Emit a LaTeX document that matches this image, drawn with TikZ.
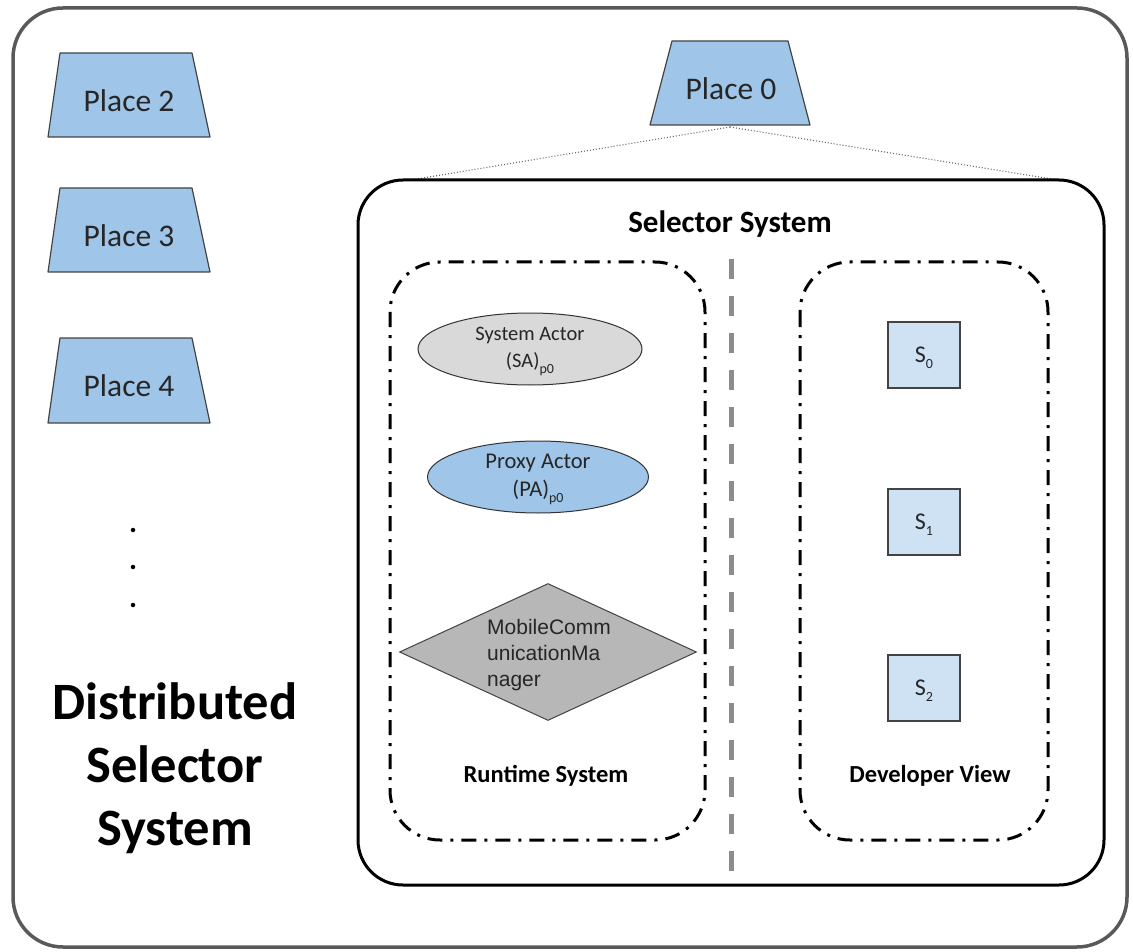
\documentclass[tikz,border=0pt]{standalone}
\usepackage{fontspec}
\setmainfont{Carlito}
\newfontfamily\arialfont{Liberation Sans}
\usetikzlibrary{shapes.geometric}
\definecolor{placeblue}{HTML}{9FC5E8}
\definecolor{paleblue}{HTML}{CFE2F3}
\definecolor{actorgray}{HTML}{D9D9D9}
\definecolor{diamondgray}{HTML}{B7B7B7}
\definecolor{framegray}{HTML}{595959}
\definecolor{edgegray}{HTML}{434343}
\definecolor{dividergray}{HTML}{8C8C8C}
\newcommand{\lowsub}[1]{\smash{\raisebox{-6pt}{\fontsize{14}{14}\selectfont #1}}}

\begin{document}
\begin{tikzpicture}[x=1pt,y=-1pt,
  placeshape/.style={fill=placeblue,draw=edgegray,line width=1.2pt,line join=round},
  placelabel/.style={font=\fontsize{31.5}{36}\selectfont,text=black!85,inner sep=0pt},
  dashdotbox/.style={draw=black,line width=3pt,rounded corners=50pt,
    dash pattern=on 15pt off 8pt on 3pt off 8pt},
  actor/.style={ellipse,draw=black!80,line width=1pt,inner sep=0pt,align=center,
    text=black!85},
  sbox/.style={draw=edgegray,line width=1.3pt,fill=paleblue,minimum width=72pt,
    minimum height=66pt,inner sep=0pt,font=\fontsize{24}{28}\selectfont,text=black!85},
  sublabel/.style={font=\bfseries\fontsize{24.5}{28}\selectfont,inner sep=0pt},
  dotmark/.style={circle,fill=black,inner sep=0pt,minimum size=4.5pt}]
\useasboundingbox (0,0) rectangle (1133,952);

% outer frame
\draw[framegray,line width=3.5pt,rounded corners=50pt] (13,8) rectangle (1127,947);

% places
\draw[placeshape] (60,53) -- (192,53) -- (210,137) -- (48,137) -- cycle;
\node[placelabel] (place2) at (129,101) {Place 2};
\draw[placeshape] (60,188) -- (192,188) -- (210,272) -- (48,272) -- cycle;
\node[placelabel] (place3) at (129,236) {Place 3};
\draw[placeshape] (60,338) -- (192,338) -- (210,423) -- (48,423) -- cycle;
\node[placelabel] (place4) at (129,386) {Place 4};
\draw[placeshape] (672,41) -- (788,41) -- (810,125) -- (650,125) -- cycle;
\node[placelabel] (place0) at (731,89) {Place 0};

% continuation dots
\node[dotmark] (dotA) at (133,530) {};
\node[dotmark] (dotB) at (133,567) {};
\node[dotmark] (dotC) at (133,605) {};

\node[font=\bfseries\fontsize{52.5}{63}\selectfont,align=center,inner sep=0pt]
  (dss) at (175,768) {Distributed\\Selector\\System};

% zoom lines from Place 0 to the selector system
\coordinate (p0foot) at (730,127);
\coordinate (ssleft) at (411,180);
\coordinate (ssright) at (1058,180);
\draw[black!60,line width=1.1pt,dash pattern=on 1pt off 2pt] (p0foot) -- (ssleft);
\draw[black!60,line width=1.1pt,dash pattern=on 1pt off 2pt] (p0foot) -- (ssright);

% selector system box
\draw[black,line width=3pt,rounded corners=45pt,fill=white] (358,180) rectangle (1104,885);
\node[font=\bfseries\fontsize{31}{36}\selectfont,inner sep=0pt] (title) at (730,224) {Selector System};

\draw[dashdotbox] (390,262) rectangle (705,840);
\draw[dashdotbox] (800,262) rectangle (1048,840);

\coordinate (divtop) at (731,259);
\coordinate (divbot) at (731,873);
\draw[dividergray,line width=5pt,dash pattern=on 20pt off 17pt] (divtop) -- (divbot);

% runtime system
\node[actor,fill=actorgray,minimum width=224pt,minimum height=72pt,
  font=\fontsize{20.5}{27}\selectfont] (sa) at (530,349) {System Actor\\(SA)\lowsub{p0}};
\node[actor,fill=placeblue,minimum width=221pt,minimum height=72pt,
  font=\fontsize{22.5}{28}\selectfont] (pa) at (538,477) {Proxy Actor\\(PA)\lowsub{p0}};
\node[diamond,draw=edgegray,line width=1pt,fill=diamondgray,minimum width=297pt,
  minimum height=137pt,inner sep=0pt] (mcm) at (548,652) {};
\node[align=left,inner sep=0pt,text=black!85,font=\arialfont\fontsize{21}{26}\selectfont]
  (mcmtext) at (549,655) {MobileComm\\unicationMa\\nager};
\node[sublabel] (runtime) at (546,776) {Runtime System};

% developer view
\node[sbox] (s0) at (924,355) {S\lowsub{0}};
\node[sbox] (s1) at (924,522) {S\lowsub{1}};
\node[sbox] (s2) at (924,688) {S\lowsub{2}};
\node[sublabel] (devview) at (930,776) {Developer View};
\end{tikzpicture}
\end{document}
